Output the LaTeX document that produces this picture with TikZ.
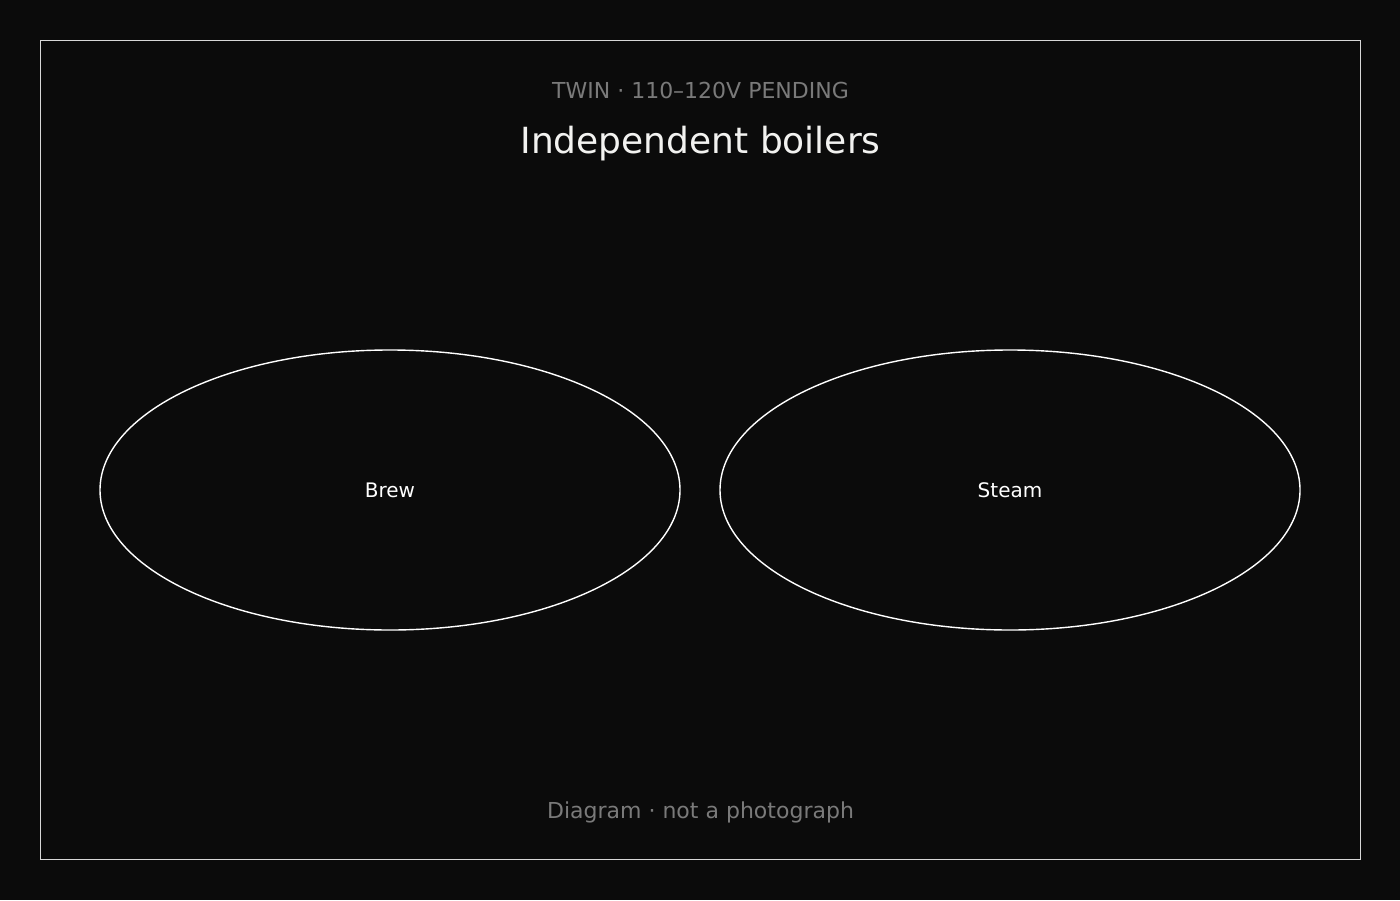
\documentclass[tikz,border=0pt]{standalone}
\usepackage{fontspec}
\setmainfont{DejaVu Sans}
\usetikzlibrary{shapes.geometric}
\definecolor{bg}{HTML}{0B0B0B}
\definecolor{frame}{HTML}{D8D8D8}
\definecolor{subtle}{HTML}{7A7A7A}
\definecolor{titlec}{HTML}{F2F2F0}
\begin{document}
\begin{tikzpicture}[x=1bp,y=-1bp,
  boiler/.style={ellipse,draw=white,line width=1.4bp,minimum width=580bp,minimum height=280bp,inner sep=0pt},
  lbl/.style={text=white,font=\fontsize{20bp}{24bp}\selectfont,anchor=base},
  kicker/.style={text=subtle,font=\fontsize{22bp}{26bp}\selectfont,anchor=base},
  titletext/.style={text=titlec,font=\fontsize{36bp}{42bp}\selectfont,anchor=base}]
\fill[bg] (0,0) rectangle (1400,900);
\useasboundingbox (0,0) rectangle (1400,900);
\draw[frame,line width=1bp] (40.5,40.5) rectangle (1360.5,859.5);
\node[kicker] (kick) at (700.5,98.3) {TWIN · 110–120V PENDING};
\node[titletext] (title) at (700.5,153.5) {Independent boilers};
\node[boiler] (brew) at (390,490) {};
\node[boiler] (steam) at (1010,490) {};
\node[lbl] (brewl) at (390,497.8) {Brew};
\node[lbl] (steaml) at (1010,497.8) {Steam};
\node[kicker] (foot) at (700.5,818) {Diagram · not a photograph};
\end{tikzpicture}
\end{document}
